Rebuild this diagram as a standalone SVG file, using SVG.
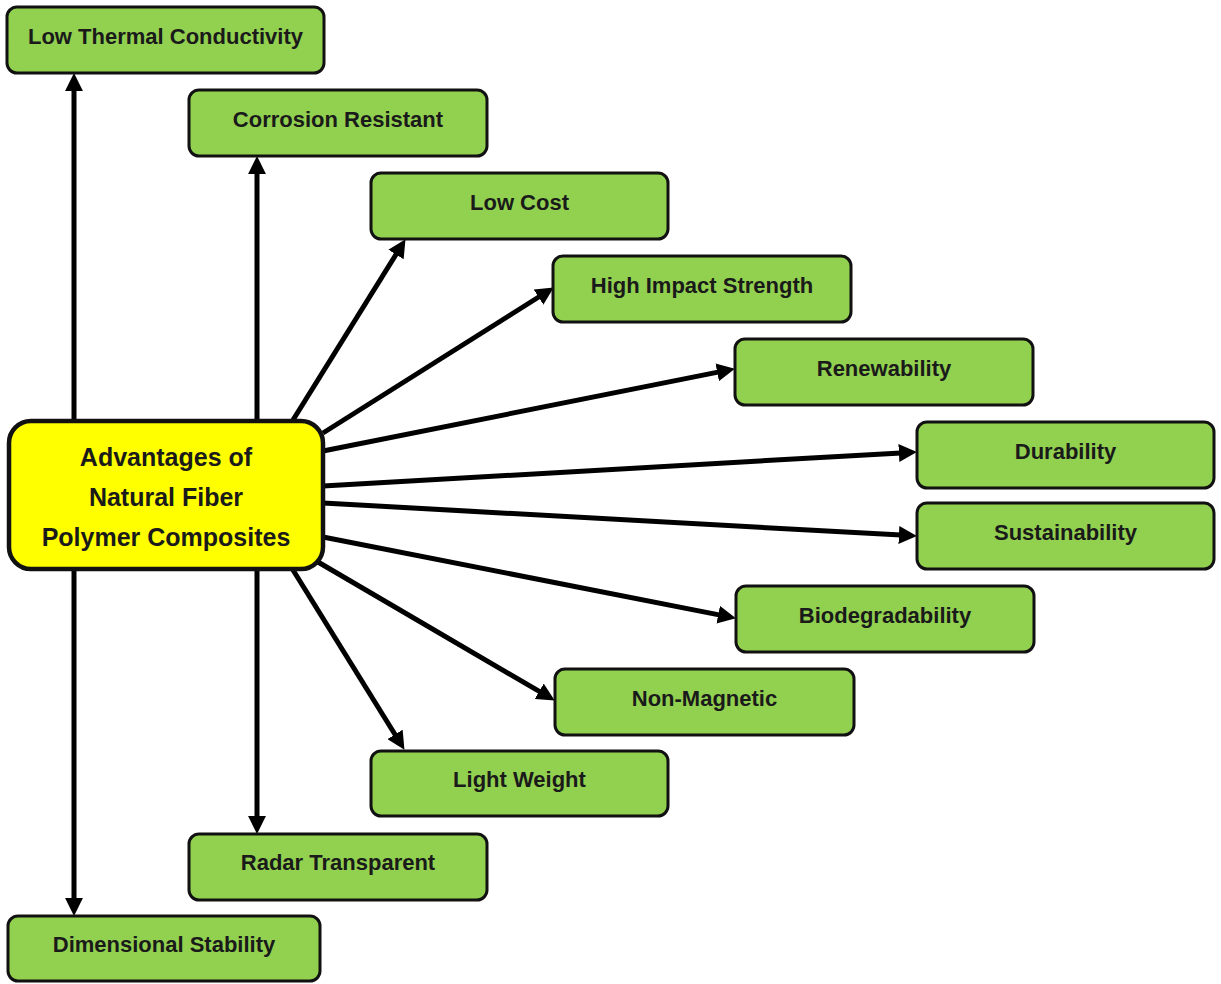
<svg xmlns="http://www.w3.org/2000/svg" width="1221" height="984" viewBox="0 0 1221 984">
<style>
.box{fill:#92d050;stroke:#111;stroke-width:3}
.center{fill:#ffff00;stroke:#111;stroke-width:4.5}
.lbl{font-family:"Liberation Sans",Arial,sans-serif;font-weight:bold;font-size:22px;fill:#1a1a1a;text-anchor:middle}
.clbl{font-family:"Liberation Sans",Arial,sans-serif;font-weight:bold;font-size:25px;fill:#1a1a1a;text-anchor:middle}
.conn{stroke:#000;stroke-width:5;fill:none;marker-end:url(#arr)}
</style>
<defs>
<marker id="arr" markerUnits="userSpaceOnUse" markerWidth="18" markerHeight="18" refX="2" refY="8.5" orient="auto" viewBox="0 0 17 17">
<path d="M0,0 L17,8.5 L0,17 Z" fill="#000"/>
</marker>
</defs>
<rect width="1221" height="984" fill="#fff"/>
<g id="connectors">
<line class="conn" x1="74" y1="421" x2="74" y2="89"/>
<line class="conn" x1="257" y1="421" x2="257" y2="172"/>
<line class="conn" x1="74" y1="570" x2="74" y2="900"/>
<line class="conn" x1="257" y1="570" x2="257" y2="818"/>
<line class="conn" x1="293" y1="420" x2="397.1" y2="252.7"/>
<line class="conn" x1="323" y1="433" x2="540.3" y2="296"/>
<line class="conn" x1="323" y1="451" x2="719.3" y2="371.9"/>
<line class="conn" x1="323" y1="486" x2="901" y2="452.9"/>
<line class="conn" x1="323" y1="503" x2="901" y2="535.1"/>
<line class="conn" x1="323" y1="537" x2="720.3" y2="615.1"/>
<line class="conn" x1="318" y1="562" x2="541" y2="692.4"/>
<line class="conn" x1="293" y1="570" x2="396.1" y2="736.2"/>
</g>
<g id="center">
<rect class="center" x="9" y="421" width="314" height="148" rx="22"/>
<text class="clbl" x="166" y="466">Advantages of</text>
<text class="clbl" x="166" y="506">Natural Fiber</text>
<text class="clbl" x="166" y="546">Polymer Composites</text>
</g>
<g id="low-thermal">
<rect class="box" x="7" y="7" width="317" height="66" rx="10"/>
<text class="lbl" x="165.5" y="44">Low Thermal Conductivity</text>
</g>
<g id="corrosion">
<rect class="box" x="189" y="90" width="298" height="66" rx="10"/>
<text class="lbl" x="338" y="127">Corrosion Resistant</text>
</g>
<g id="low-cost">
<rect class="box" x="371" y="173" width="297" height="66" rx="10"/>
<text class="lbl" x="519.5" y="210">Low Cost</text>
</g>
<g id="high-impact">
<rect class="box" x="553" y="256" width="298" height="66" rx="10"/>
<text class="lbl" x="702" y="293">High Impact Strength</text>
</g>
<g id="renewability">
<rect class="box" x="735" y="339" width="298" height="66" rx="10"/>
<text class="lbl" x="884" y="376">Renewability</text>
</g>
<g id="durability">
<rect class="box" x="917" y="422" width="297" height="66" rx="10"/>
<text class="lbl" x="1065.5" y="459">Durability</text>
</g>
<g id="sustainability">
<rect class="box" x="917" y="503" width="297" height="66" rx="10"/>
<text class="lbl" x="1065.5" y="540">Sustainability</text>
</g>
<g id="biodegradability">
<rect class="box" x="736" y="586" width="298" height="66" rx="10"/>
<text class="lbl" x="885" y="623">Biodegradability</text>
</g>
<g id="non-magnetic">
<rect class="box" x="555" y="669" width="299" height="66" rx="10"/>
<text class="lbl" x="704.5" y="706">Non-Magnetic</text>
</g>
<g id="light-weight">
<rect class="box" x="371" y="751" width="297" height="65" rx="10"/>
<text class="lbl" x="519.5" y="787">Light Weight</text>
</g>
<g id="radar">
<rect class="box" x="189" y="834" width="298" height="66" rx="10"/>
<text class="lbl" x="338" y="870">Radar Transparent</text>
</g>
<g id="dimensional">
<rect class="box" x="8" y="916" width="312" height="65" rx="10"/>
<text class="lbl" x="164" y="952">Dimensional Stability</text>
</g>
</svg>
